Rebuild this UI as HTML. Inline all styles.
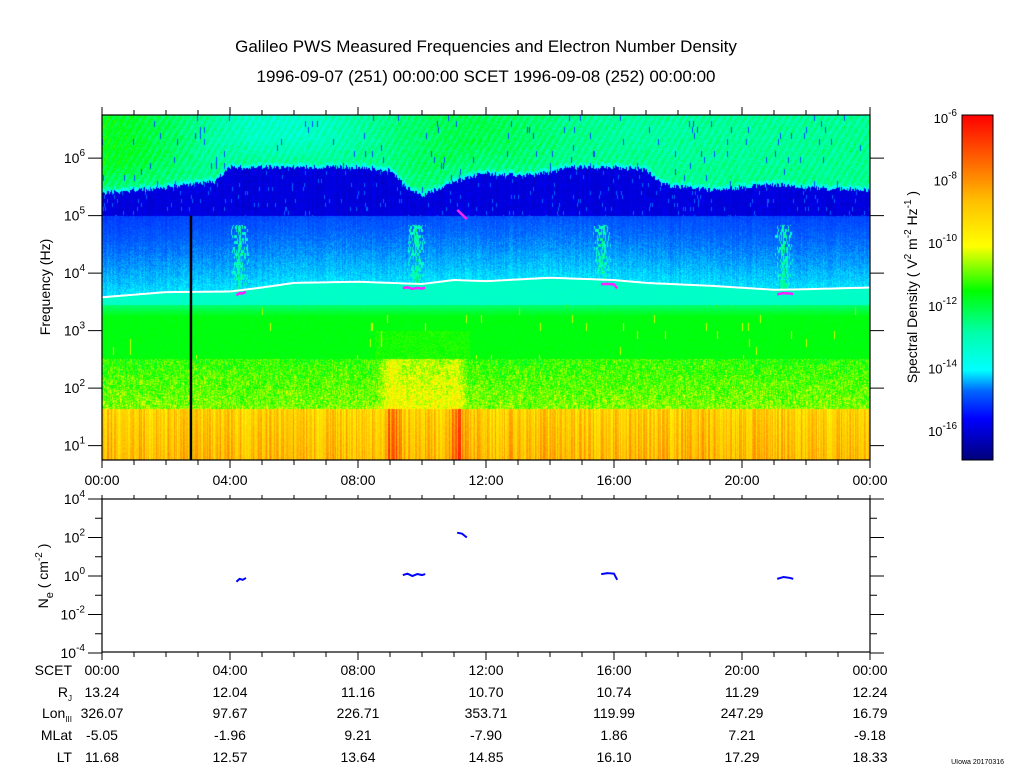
<!DOCTYPE html>
<html><head><meta charset="utf-8">
<style>
html,body{margin:0;padding:0;background:#fff;}
body{width:1024px;height:767px;position:relative;overflow:hidden;font-family:"Liberation Sans",sans-serif;}
#spec{position:absolute;left:102px;top:115px;width:768px;height:345px;}
svg{position:absolute;left:0;top:0;}
</style></head>
<body>
<canvas id="spec" width="768" height="345"></canvas>
<svg id="ov" width="1024" height="767" font-family="Liberation Sans, sans-serif">
<text x="486" y="52" text-anchor="middle" font-size="17">Galileo PWS Measured Frequencies and Electron Number Density</text>
<text x="486" y="82" text-anchor="middle" font-size="17">1996-09-07 (251) 00:00:00 SCET 1996-09-08 (252) 00:00:00</text>
<defs><linearGradient id="cb" x1="0" y1="1" x2="0" y2="0">
<stop offset="0" stop-color="#00007a"/><stop offset="0.12" stop-color="#0000ff"/><stop offset="0.2" stop-color="#0066ff"/><stop offset="0.26" stop-color="#00ffff"/><stop offset="0.37" stop-color="#00ffa8"/><stop offset="0.49" stop-color="#00ff00"/><stop offset="0.62" stop-color="#ffff00"/><stop offset="0.75" stop-color="#ffc000"/><stop offset="0.86" stop-color="#ff6a00"/><stop offset="1" stop-color="#ff0000"/></linearGradient></defs>
<rect x="962" y="115" width="31" height="345" fill="url(#cb)" stroke="#000" stroke-width="1"/>
<g id="cbt" font-size="13" text-anchor="end"></g>
<text transform="translate(917,287) rotate(-90)" text-anchor="middle" font-size="14">Spectral Density ( V<tspan dy="-6" font-size="10">2</tspan><tspan dy="6"> m</tspan><tspan dy="-6" font-size="10">-2</tspan><tspan dy="6"> Hz</tspan><tspan dy="-6" font-size="10">-1</tspan><tspan dy="6"> )</tspan></text>
<text transform="translate(50,287) rotate(-90)" text-anchor="middle" font-size="14">Frequency (Hz)</text>
<text transform="translate(48,576) rotate(-90)" text-anchor="middle" font-size="14">N<tspan dy="5" font-size="11">e</tspan><tspan dy="-5"> ( cm</tspan><tspan dy="-6" font-size="10">-2</tspan><tspan dy="6"> )</tspan></text>
<g id="g"></g>
<text x="1004" y="764" text-anchor="end" font-size="7">UIowa 20170316</text>
</svg>
<script>
// ---- data ----
const fpHours = [0,2,4,5,6,8,9,10,11,12,14,16,17,19,21,22,24];
const fpLogHz = [3.58,3.67,3.68,3.75,3.83,3.85,3.83,3.81,3.88,3.86,3.92,3.88,3.83,3.78,3.71,3.72,3.75];
const edgeHours = [0,2,3.5,4,6,8,9,9.5,10,11,12,13,14,14.5,16,17,17.5,19,21,22,24];
const edgeLogHz = [5.4,5.5,5.6,5.85,5.85,5.85,5.8,5.5,5.35,5.6,5.75,5.7,5.75,5.85,5.85,5.8,5.55,5.45,5.55,5.5,5.45];
const densSegHours = [[4.2,4.3,4.4,4.5],[9.4,9.55,9.7,9.85,10.0,10.1],[11.1,11.25,11.4],[15.6,15.8,16.0,16.1],[21.1,21.3,21.5,21.6]];
const densSegLog = [[-0.3,-0.15,-0.2,-0.1],[0.05,0.12,0.0,0.1,0.05,0.1],[2.25,2.2,2.0],[0.1,0.15,0.12,-0.2],[-0.15,-0.05,-0.1,-0.15]];
const burstHours = [4.3,9.8,15.6,21.3];
const xTickLabels = ["00:00","04:00","08:00","12:00","16:00","20:00","00:00"];
const rowLabels = ["SCET","R","Lon","MLat","LT"];
const rowValues = [
 ["00:00","04:00","08:00","12:00","16:00","20:00","00:00"],
 ["13.24","12.04","11.16","10.70","10.74","11.29","12.24"],
 ["326.07","97.67","226.71","353.71","119.99","247.29","16.79"],
 ["-5.05","-1.96","9.21","-7.90","1.86","7.21","-9.18"],
 ["11.68","12.57","13.64","14.85","16.10","17.29","18.33"]];

// ---- axis functions ----
const X0=102,X1=870,SY0=115,SY1=460;
const xs=h=>X0+h*(X1-X0)/24;
const ys=L=>SY0+(6.75-L)*57.5;
const yd=L=>499+(4-L)*19.25;
function interp(hx,vy,h){for(let i=1;i<hx.length;i++){if(h<=hx[i]){const t=(h-hx[i-1])/(hx[i]-hx[i-1]);return vy[i-1]+t*(vy[i]-vy[i-1]);}}return vy[vy.length-1];}

// ---- colormap ----
const stops=[[0,0,0,122],[0.12,0,0,255],[0.2,0,102,255],[0.26,0,255,255],[0.37,0,255,168],[0.49,0,255,0],[0.62,255,255,0],[0.75,255,192,0],[0.86,255,106,0],[1,255,0,0]];
function cmap(v){v=Math.max(0,Math.min(1,v));for(let i=1;i<stops.length;i++){if(v<=stops[i][0]){const a=stops[i-1],b=stops[i],t=(v-a[0])/(b[0]-a[0]);return [a[1]+t*(b[1]-a[1]),a[2]+t*(b[2]-a[2]),a[3]+t*(b[3]-a[3])];}}return [255,0,0];}
function hash(a,b){let h=(a*374761393+b*668265263)|0;h=(h^(h>>>13))*1274126177|0;return ((h^(h>>>16))>>>0)/4294967296;}

// ---- paint spectrogram ----
const cv=document.getElementById('spec'),ctx=cv.getContext('2d');
const img=ctx.createImageData(768,345);
const colN=[];for(let x=0;x<768;x++)colN.push(hash(x,7));
for(let x=0;x<768;x++){
 const h=x/32, fp=interp(fpHours,fpLogHz,h), edge=interp(edgeHours,edgeLogHz,h)+0.08*(colN[x]-0.5);
 let bst=0;for(const b of burstHours){const d=Math.abs(h-b);if(d<0.3)bst=Math.max(bst,1-d/0.3);}
 let red=0;if(h>8.7&&h<9.4)red=1-Math.abs(h-9.05)/0.35;if(h>10.8&&h<11.4)red=1-Math.abs(h-11.1)/0.3;
 const hot=(h>8.5&&h<11.5)?Math.min(1,Math.min(h-8.5,11.5-h)*2):0;
 const greenTop=0.05*Math.cos((h-1)*0.5)+0.04*Math.cos((h-20)*0.6);
 for(let y=0;y<345;y++){
  const L=6.75-y/57.5, n=hash(x,y*3+1)-0.5, c=colN[x]-0.5, cs=hash(x,Math.floor(y/5)+99)-0.5;
  let v;
  if(L<1.65){v=0.71+0.14*c+0.04*n+(1.65-L)*0.05+red*0.14*(0.6+colN[x]);}
  else if(L<2.52){v=0.51+0.1*n+0.07*cs+(2.52-L)*0.05+hot*0.07+red*0.03;}
  else if(L<3.45){v=0.48+0.02*n;if(hash(x,Math.floor(y/8))>0.993)v=0.6;if(L<3.0&&hot>0)v+=0.04*hash(x,y);if(L>3.25)v-=(L-3.25)*0.35;}
  else if(L<fp){v=0.33+0.02*n;}
  else if(L<5){v=0.25-(L-fp)*0.06+0.03*n+0.015*c;
     if(bst>0&&L<4.85&&hash(x,Math.floor(y/3))<bst*0.8)v=Math.max(v,0.3+0.15*hash(x,y+5)*bst);}
  else if(L<edge){v=0.09+0.04*n+0.02*c;if(hash(x,Math.floor(y/4)+50)>0.97)v=0.2;}
  else {const s=Math.sin((x+y*0.6)*0.9);v=0.39+greenTop*Math.min(1,(L-edge)*2)+0.07*n+0.025*s+0.03*cs;if(L-edge<0.06)v=0.28+0.05*n;if(hash(x,Math.floor(y/6)+300)>0.985)v=0.18;}
  const col=cmap(v),i=(y*768+x)*4;
  img.data[i]=col[0];img.data[i+1]=col[1];img.data[i+2]=col[2];img.data[i+3]=255;
 }}
ctx.putImageData(img,0,0);

// ---- overlay ----
const NS="http://www.w3.org/2000/svg",g=document.getElementById('g');
function mk(t,at,parent){const e=document.createElementNS(NS,t);for(const k in at)e.setAttribute(k,at[k]);(parent||g).appendChild(e);return e;}
function ln(x1,y1,x2,y2,w){return mk('line',{x1,y1,x2,y2,stroke:'#000','stroke-width':w||1});}
let d="";for(let x=0;x<=768;x+=4){const h=x/32;d+=(x?"L":"M")+xs(h)+","+ys(interp(fpHours,fpLogHz,h));}
const fpl=mk('path',{d,fill:'none',stroke:'#fff','stroke-width':2});


densSegHours.forEach((hs,k)=>{let p="";hs.forEach((h,i)=>{const L=k===2?5.1-0.08*i:interp(fpHours,fpLogHz,h)-0.08+(densSegLog[k][i]-densSegLog[k][0])*0.2;p+=(i?"L":"M")+xs(h)+","+ys(L);});
 const m=mk('path',{d:p,fill:'none',stroke:'#ff20ff','stroke-width':2.5});
 
 });
const bl=ln(xs(2.78),ys(5),xs(2.78),SY1,2.5);


mk('rect',{x:X0,y:SY0,width:768,height:345,fill:'none',stroke:'#000','stroke-width':1.2});
mk('rect',{x:X0,y:499,width:768,height:153,fill:'none',stroke:'#000','stroke-width':1.2});
for(let h=0;h<=24;h++){const x=xs(h),big=h%4===0;ln(x,SY0,x,SY0-(big?8:5));ln(x,SY1,x,SY1+(big?8:5));ln(x,499,x,499-4);ln(x,652,x,652+(big?8:5));}
xTickLabels.forEach((t,i)=>{const e=mk('text',{x:xs(i*4),y:485,'text-anchor':'middle','font-size':14});e.textContent=t;
 
 });
for(let p=1;p<=6;p++){const y=ys(p);ln(X0-14,y,X0,y);ln(X1,y,X1+14,y);
 const e=mk('text',{x:X0-17,y:y+5,'text-anchor':'end','font-size':14});e.innerHTML='10<tspan dy="-7" font-size="10">'+p+'</tspan>';
 
 }
for(let p=-4;p<=4;p++){const y=yd(p),big=p%2===0;ln(X0-(big?14:7),y,X0,y);ln(X1,y,X1+(big?14:7),y);
 if(big){const e=mk('text',{x:X0-17,y:y+5,'text-anchor':'end','font-size':14});e.innerHTML='10<tspan dy="-7" font-size="10">'+p+'</tspan>';
 
 }}
densSegHours.forEach((hs,k)=>{let p="";hs.forEach((h,i)=>{p+=(i?"L":"M")+xs(h)+","+yd(densSegLog[k][i]);});
 const s=mk('path',{d:p,fill:'none',stroke:'#0000ff','stroke-width':2});
 
 });
const cbt=document.getElementById('cbt');
for(let p=-6;p>=-16;p-=2){const y=118+(-6-p)*31.3;const e=mk('text',{x:957,y:y+5},cbt);e.innerHTML='10<tspan dy="-7" font-size="10">'+p+'</tspan>';
 
 }
const rowY=[675,697,718,740,762];
rowLabels.forEach((lab,r)=>{const e=mk('text',{x:72,y:rowY[r],'text-anchor':'end','font-size':14});
 if(r===1)e.innerHTML='R<tspan dy="4" font-size="8">J</tspan>';else if(r===2)e.innerHTML='Lon<tspan dy="4" font-size="8">III</tspan>';else e.textContent=lab;
 
 
 rowValues[r].forEach((v,i)=>{const t=mk('text',{x:xs(i*4),y:rowY[r],'text-anchor':'middle','font-size':14});t.textContent=v;
 
 });});
</script>
</body></html>
